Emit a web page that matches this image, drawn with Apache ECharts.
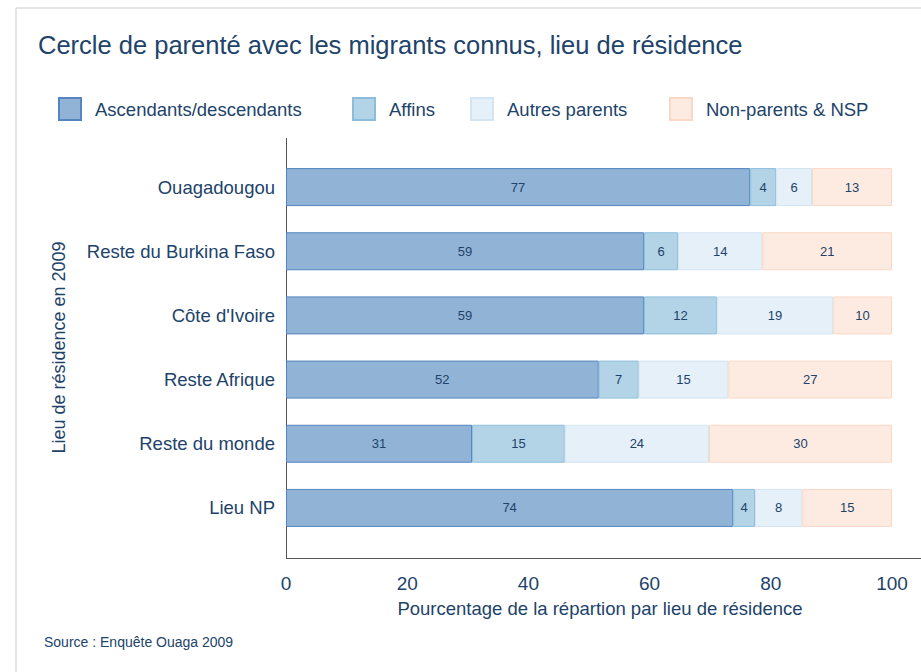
<!DOCTYPE html>
<html>
<head>
<meta charset="utf-8">
<script src="https://cdn.jsdelivr.net/npm/echarts@6/dist/echarts.min.js"></script>
<style>
    html, body { margin: 0; padding: 0; background: #fff; }
    #chart { width: 921px; height: 672px; }
</style>
</head>
<body>
<div id="chart"></div>
<script>
var places = ['Ouagadougou', 'Reste du Burkina Faso', "Côte d'Ivoire", 'Reste Afrique', 'Reste du monde', 'Lieu NP'];
var seriesNames = ['Ascendants/descendants', 'Affins', 'Autres parents', 'Non-parents & NSP'];
var ascDesc = [76.6, 59.1, 59.1, 51.6, 30.7, 73.8];
var affins = [4.3, 5.6, 12.0, 6.6, 15.3, 3.6];
var autres = [5.9, 13.9, 19.2, 14.8, 23.8, 7.8];
var nonParents = [13.2, 21.4, 9.7, 27.0, 30.2, 14.8];
var xTicks = [0, 20, 40, 60, 80, 100];

var fills = ['#91b3d6', '#b3d4e7', '#e6f0f8', '#fdebe1'];
var borders = ['#5585c0', '#8cbedc', '#d3e4f2', '#fad8c6'];
var textColor = '#21436a';
var font = 'Liberation Sans';

var gridBox = {left: 286, right: 29, top: 155, bottom: 132};

var myChart = echarts.init(document.getElementById('chart'), null, {renderer: 'svg'});

function makeSeries(i, data) {
    return {
        name: seriesNames[i],
        type: 'bar',
        stack: 'total',
        barWidth: 38,
        data: data,
        itemStyle: {
            color: fills[i],
            borderColor: borders[i],
            borderWidth: 1
        },
        label: {
            show: true,
            position: 'inside',
            color: textColor,
            fontFamily: font,
            fontSize: 13,
            formatter: function (p) {
                return Math.round(p.value);
            }
        }
    };
}

function makeLegend(i, left) {
    return {
        data: [seriesNames[i]],
        left: left,
        top: 97,
        padding: 0,
        itemWidth: 22,
        itemHeight: 22,
        itemGap: 0,
        icon: 'rect',
        textStyle: {color: textColor, fontFamily: font, fontSize: 18.5, padding: [0, 0, 0, 9]}
    };
}

var option = {
    animation: false,
    textStyle: {fontFamily: font},
    title: {
        text: 'Cercle de parenté avec les migrants connus, lieu de résidence',
        left: 33,
        top: 27,
        textStyle: {color: textColor, fontFamily: font, fontSize: 25.5, fontWeight: 'normal'}
    },
    legend: [makeLegend(0, 58), makeLegend(1, 352), makeLegend(2, 470), makeLegend(3, 669)],
    grid: gridBox,
    xAxis: {
        type: 'value',
        min: 0,
        max: 100,
        interval: 20,
        axisLine: {show: false},
        axisTick: {show: false},
        splitLine: {show: false},
        axisLabel: {
            color: textColor,
            fontFamily: font,
            fontSize: 19,
            margin: 16 + 18,
            formatter: function (v) {
                return xTicks.indexOf(v) >= 0 ? String(v) : '';
            }
        },
        name: 'Pourcentage de la répartion par lieu de résidence',
        nameLocation: 'middle',
        nameGap: 59,
        nameTextStyle: {color: textColor, fontFamily: font, fontSize: 18.5, padding: [0, 0, 0, 22]}
    },
    yAxis: {
        type: 'category',
        data: places,
        inverse: true,
        axisLine: {show: false},
        axisTick: {show: false},
        axisLabel: {color: textColor, fontFamily: font, fontSize: 18.5, margin: 11},
        name: 'Lieu de résidence en 2009',
        nameLocation: 'middle',
        nameRotate: 90,
        nameGap: 218,
        nameTextStyle: {color: textColor, fontFamily: font, fontSize: 18}
    },
    series: [
        makeSeries(0, ascDesc),
        makeSeries(1, affins),
        makeSeries(2, autres),
        makeSeries(3, nonParents)
    ],
    graphic: [
        // page frame
        {type: 'polyline', silent: true, shape: {points: [[16, 672], [16, 8], [921, 8]]},
            style: {stroke: '#cccccc', lineWidth: 1, fill: null}},
        // axis lines extend past the bar bands
        {type: 'line', silent: true, shape: {x1: 286.5, y1: 138, x2: 286.5, y2: 558},
            style: {stroke: '#555555', lineWidth: 1}},
        {type: 'line', silent: true, shape: {x1: 286, y1: 558.5, x2: 921, y2: 558.5},
            style: {stroke: '#555555', lineWidth: 1}},
        {type: 'text', left: 44, top: 635,
            style: {text: 'Source : Enquête Ouaga 2009', fill: textColor, font: '14px "Liberation Sans"'}}
    ]
};

myChart.setOption(option);

window.addEventListener('resize', function () {
    myChart.resize();
});
</script>
</body>
</html>
